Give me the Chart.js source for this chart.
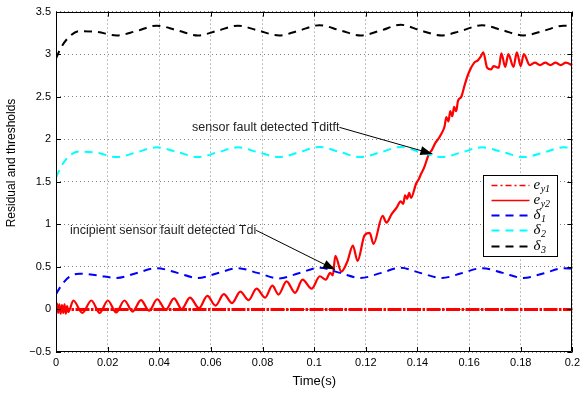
<!DOCTYPE html>
<html>
<head>
<meta charset="utf-8">
<script src="https://cdn.jsdelivr.net/npm/chart.js@4.4.1/dist/chart.umd.min.js"></script>
<style>
  html, body { margin: 0; padding: 0; background: #fff; }
  #wrap { width: 584px; height: 394px; }
</style>
</head>
<body>
<div id="wrap"><canvas id="chart" width="584" height="394"></canvas></div>
<script>
// ===== DATA =====
const xTicks = [0, 0.02, 0.04, 0.06, 0.08, 0.1, 0.12, 0.14, 0.16, 0.18, 0.2];
const yTicks = [-0.5, 0, 0.5, 1, 1.5, 2, 2.5, 3, 3.5];

// thresholds (time in s)
const thrTime = [0, 0.002, 0.005, 0.009, 0.016, 0.0235, 0.031, 0.039, 0.047, 0.055, 0.0625, 0.0705, 0.078, 0.0865,
  0.094, 0.102, 0.110, 0.118, 0.126, 0.1335, 0.141, 0.1495, 0.157, 0.165, 0.173, 0.181, 0.189, 0.1965, 0.2];
const delta1 = [0.18, 0.28, 0.38, 0.42, 0.40, 0.37, 0.425, 0.485, 0.43, 0.37, 0.425, 0.485, 0.43, 0.365,
  0.425, 0.49, 0.43, 0.37, 0.43, 0.49, 0.43, 0.37, 0.425, 0.485, 0.43, 0.37, 0.425, 0.485, 0.48];
const delta2 = [1.55, 1.68, 1.80, 1.855, 1.84, 1.79, 1.845, 1.905, 1.85, 1.79, 1.845, 1.905, 1.85, 1.79,
  1.845, 1.91, 1.85, 1.79, 1.85, 1.91, 1.85, 1.79, 1.845, 1.905, 1.85, 1.79, 1.845, 1.905, 1.90];
const delta3 = [2.95, 3.08, 3.20, 3.27, 3.26, 3.22, 3.27, 3.335, 3.28, 3.22, 3.275, 3.335, 3.28, 3.22,
  3.275, 3.34, 3.28, 3.22, 3.28, 3.345, 3.28, 3.22, 3.275, 3.34, 3.28, 3.22, 3.275, 3.335, 3.33];

// residuals
const ey1Time = [0, 0.2];
const ey1 = [0, 0];

const ey2Time = [0, 0.0004, 0.0008, 0.0013, 0.0018, 0.0023, 0.0028, 0.0033, 0.0038, 0.0043, 0.0048,
  0.0067, 0.0102, 0.0137, 0.0169, 0.0201, 0.0233, 0.0265, 0.0297, 0.0329, 0.0361, 0.0392, 0.0425,
  0.0457, 0.0487, 0.0519, 0.0554, 0.0586, 0.0618, 0.065, 0.0682, 0.0714, 0.0746, 0.0777, 0.081,
  0.0838, 0.0862, 0.0893, 0.0926, 0.0955, 0.099, 0.1022, 0.1045, 0.1062, 0.1072, 0.1082, 0.1105,
  0.1128, 0.115, 0.1168, 0.1195, 0.1215, 0.123, 0.1265, 0.128, 0.130, 0.132, 0.1335, 0.1345, 0.1352,
  0.136, 0.1368, 0.1375, 0.1395, 0.1405, 0.1415, 0.1425, 0.1445, 0.1455, 0.147, 0.148, 0.149, 0.1505,
  0.1512, 0.152, 0.1527, 0.1535, 0.1542, 0.155, 0.1557, 0.157, 0.1585, 0.160,
  0.162, 0.1635, 0.1645, 0.1655, 0.167, 0.1685, 0.1695, 0.1715, 0.1725, 0.174, 0.1752, 0.1772,
  0.1785, 0.180, 0.1812, 0.1835, 0.1855, 0.1875, 0.1895, 0.1915, 0.1935, 0.1955, 0.1975, 0.2];
const ey2 = [0, 0.07, -0.04, 0.06, -0.05, 0.05, -0.04, 0.06, -0.05, 0.04, -0.03,
  0.105, -0.04, 0.105, -0.04, 0.105, -0.035, 0.105, -0.025, 0.11, -0.015, 0.12, -0.005,
  0.13, 0.005, 0.14, 0.015, 0.16, 0.045, 0.18, 0.075, 0.21, 0.11, 0.245, 0.14,
  0.28, 0.175, 0.33, 0.195, 0.35, 0.245, 0.39, 0.35, 0.43, 0.40, 0.63, 0.445,
  0.56, 0.75, 0.57, 0.87, 0.90, 0.77, 1.10, 1.02, 1.12, 1.20, 1.27, 1.24, 1.34,
  1.30, 1.37, 1.31, 1.48, 1.53, 1.60, 1.66, 1.83, 1.87, 1.96, 2.00, 2.05, 2.15,
  2.26, 2.21, 2.33, 2.27, 2.38, 2.33, 2.45, 2.50, 2.66, 2.79, 2.90,
  2.93, 2.97, 3.02, 2.84, 2.82, 2.86, 2.84, 3.01, 2.85, 3.00, 2.85, 3.02,
  2.86, 3.00, 2.87, 2.90, 2.87, 2.90, 2.87, 2.90, 2.87, 2.90, 2.87, 2.88];

// text annotations, anchored in data units (text start, arrow tip)
const notes = [
  { text: "incipient sensor fault detected Tdi", tx: 0.0054, ty: 0.93, ax: 0.1081, ay: 0.468 },
  { text: "sensor fault detected Tditft", tx: 0.0527, ty: 2.14, ax: 0.1458, ay: 1.828 }
];

const pts = (ts, vs) => ts.map((t, i) => ({ x: t, y: vs[i] }));
const FONT = '"Liberation Sans", Arial, Helvetica, sans-serif';

// ===== PLUGINS =====
// matlab style box + inward ticks + y label
const boxPlugin = {
  id: "matBox",
  afterDatasetsDraw(chart) {
    const { ctx, chartArea: a, scales: { x, y } } = chart;
    ctx.save();
    ctx.strokeStyle = "#000";
    ctx.lineWidth = 1;
    ctx.beginPath();
    ctx.rect(Math.round(a.left) + 0.5, Math.round(a.top) + 0.5, Math.round(a.right - a.left) - 1, Math.round(a.bottom - a.top) - 1);
    xTicks.forEach(v => {
      const px = Math.round(x.getPixelForValue(v)) + 0.5;
      ctx.moveTo(px, a.bottom); ctx.lineTo(px, a.bottom - 5);
      ctx.moveTo(px, a.top); ctx.lineTo(px, a.top + 5);
    });
    yTicks.forEach(v => {
      const py = Math.round(y.getPixelForValue(v)) + 0.5;
      ctx.moveTo(a.left, py); ctx.lineTo(a.left + 5, py);
      ctx.moveTo(a.right, py); ctx.lineTo(a.right - 5, py);
    });
    ctx.stroke();

    ctx.translate(12, 163);
    ctx.rotate(-Math.PI / 2);
    ctx.font = "12px " + FONT;
    ctx.fillStyle = "#000";
    ctx.textAlign = "center";
    ctx.textBaseline = "middle";
    ctx.fillText("Residual and thresholds", 0, 0);
    ctx.restore();
  }
};

// annotations with arrows
const notePlugin = {
  id: "notes",
  afterDraw(chart) {
    const { ctx, scales: { x, y } } = chart;
    ctx.save();
    ctx.font = "12.5px " + FONT;
    ctx.textBaseline = "middle";
    notes.forEach(n => {
      const tx = x.getPixelForValue(n.tx), ty = y.getPixelForValue(n.ty);
      const ax = x.getPixelForValue(n.ax), ay = y.getPixelForValue(n.ay);
      ctx.fillStyle = "#222";
      ctx.fillText(n.text, tx, ty);
      const sx = tx + ctx.measureText(n.text).width;
      const ang = Math.atan2(ay - ty, ax - sx);
      ctx.strokeStyle = "#000";
      ctx.lineWidth = 1;
      ctx.beginPath(); ctx.moveTo(sx, ty); ctx.lineTo(ax, ay); ctx.stroke();
      ctx.fillStyle = "#000";
      ctx.beginPath();
      ctx.moveTo(ax, ay);
      ctx.lineTo(ax - 12 * Math.cos(ang) + 4.5 * Math.sin(ang), ay - 12 * Math.sin(ang) - 4.5 * Math.cos(ang));
      ctx.lineTo(ax - 12 * Math.cos(ang) - 4.5 * Math.sin(ang), ay - 12 * Math.sin(ang) + 4.5 * Math.cos(ang));
      ctx.closePath(); ctx.fill();
    });
    ctx.restore();
  }
};

// boxed legend with subscripts
const legendPlugin = {
  id: "boxLegend",
  afterDraw(chart) {
    const ctx = chart.ctx;
    const bx = 483.5, by = 175.5, bw = 74, bh = 81;
    ctx.save();
    ctx.fillStyle = "#fff";
    ctx.fillRect(bx, by, bw, bh);
    ctx.strokeStyle = "#000";
    ctx.lineWidth = 1;
    ctx.strokeRect(bx, by, bw, bh);
    chart.data.datasets.forEach((ds, i) => {
      const ly = Math.round(by + 9 + i * 15.3) + 0.5;
      ctx.strokeStyle = ds.borderColor;
      ctx.lineWidth = ds.legendWidth;
      ctx.setLineDash(ds.legendDash);
      ctx.beginPath(); ctx.moveTo(bx + 8, ly); ctx.lineTo(bx + 46, ly); ctx.stroke();
      ctx.setLineDash([]);
      ctx.fillStyle = "#000";
      ctx.textBaseline = "alphabetic";
      ctx.font = 'italic 15px "Liberation Serif", "DejaVu Serif", serif';
      const tx = bx + 50;
      ctx.fillText(ds.sym, tx, ly + 3);
      const w = ctx.measureText(ds.sym).width;
      ctx.font = 'italic 10px "Liberation Serif", "DejaVu Serif", serif';
      ctx.fillText(ds.sub, tx + w + 0.5, ly + 6);
    });
    ctx.restore();
  }
};

// ===== CHART =====
new Chart(document.getElementById("chart"), {
  type: "line",
  data: {
    datasets: [
      { label: "e_y1", sym: "e", sub: "y1", data: pts(ey1Time, ey1), borderColor: "#ff0000", borderWidth: 3,
        borderDash: [14, 1.5, 2.5, 1.5], legendDash: [6, 3, 2, 3], legendWidth: 1.5, order: 5 },
      { label: "e_y2", sym: "e", sub: "y2", data: pts(ey2Time, ey2), borderColor: "#ff0000", borderWidth: 2.2,
        cubicInterpolationMode: "monotone", legendDash: [], legendWidth: 1.5, order: 4 },
      { label: "δ1", sym: "δ", sub: "1", data: pts(thrTime, delta1), borderColor: "#0000ff", borderWidth: 2,
        borderDash: [8, 6], cubicInterpolationMode: "monotone", legendDash: [8, 6], legendWidth: 2, order: 3 },
      { label: "δ2", sym: "δ", sub: "2", data: pts(thrTime, delta2), borderColor: "#00ffff", borderWidth: 2,
        borderDash: [8, 6], cubicInterpolationMode: "monotone", legendDash: [8, 6], legendWidth: 2, order: 2 },
      { label: "δ3", sym: "δ", sub: "3", data: pts(thrTime, delta3), borderColor: "#000000", borderWidth: 2,
        borderDash: [8, 6], cubicInterpolationMode: "monotone", legendDash: [8, 6], legendWidth: 2, order: 1 }
    ]
  },
  options: {
    responsive: false,
    animation: false,
    layout: { padding: { top: 5, right: 8, left: 0, bottom: 0 } },
    elements: { point: { radius: 0 }, line: { fill: false } },
    plugins: { legend: { display: false }, tooltip: { enabled: false } },
    scales: {
      x: {
        type: "linear", min: 0, max: 0.2,
        afterBuildTicks: s => { s.ticks = xTicks.map(v => ({ value: v })); },
        afterFit: s => { s.height = 42; },
        ticks: { color: "#000", padding: 4, maxRotation: 0, font: { family: FONT, size: 11 },
          callback: v => String(+Number(v).toFixed(2)) },
        grid: { color: "rgba(0,0,0,0.5)", lineWidth: 1, drawTicks: false },
        border: { display: false, dash: [1, 3] },
        title: { display: true, text: "Time(s)", color: "#000", font: { family: FONT, size: 13 }, padding: { top: 0, bottom: 5 } }
      },
      y: {
        type: "linear", min: -0.5, max: 3.5,
        afterBuildTicks: s => { s.ticks = yTicks.map(v => ({ value: v })); },
        afterFit: s => { s.width = 56; },
        ticks: { color: "#000", padding: 5, font: { family: FONT, size: 11 },
          callback: v => String(+Number(v).toFixed(2)).replace("-", "\u2212") },
        grid: { color: "rgba(0,0,0,0.5)", lineWidth: 1, drawTicks: false },
        border: { display: false, dash: [1, 3] },
        title: { display: false }
      }
    }
  },
  plugins: [boxPlugin, notePlugin, legendPlugin]
});
</script>
</body>
</html>
